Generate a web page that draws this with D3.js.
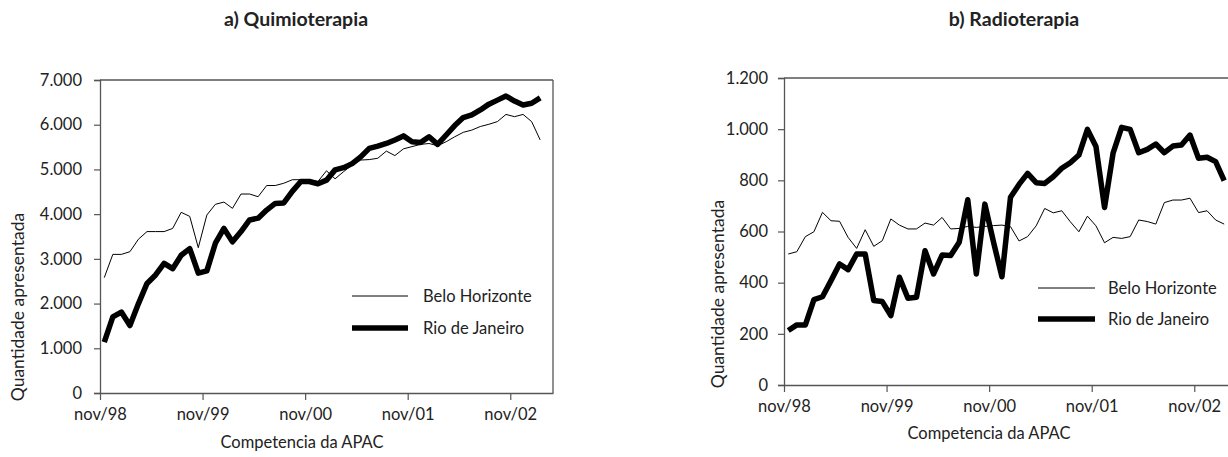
<!DOCTYPE html>
<html>
<head>
<meta charset="utf-8">
<script src="https://cdn.jsdelivr.net/npm/d3@7"></script>
<style>
  html, body { margin: 0; padding: 0; background: #fff; }
  svg { display: block; }
  text { font-family: Lato, "Noto Sans", sans-serif; fill: #222; }
</style>
</head>
<body>
<svg id="chart" width="1228" height="457"></svg>
<script>
// ---- Data ----
const categories = [
  "nov/98","dez/98","jan/99","fev/99","mar/99","abr/99","mai/99","jun/99","jul/99","ago/99","set/99","out/99",
  "nov/99","dez/99","jan/00","fev/00","mar/00","abr/00","mai/00","jun/00","jul/00","ago/00","set/00","out/00",
  "nov/00","dez/00","jan/01","fev/01","mar/01","abr/01","mai/01","jun/01","jul/01","ago/01","set/01","out/01",
  "nov/01","dez/01","jan/02","fev/02","mar/02","abr/02","mai/02","jun/02","jul/02","ago/02","set/02","out/02",
  "nov/02","dez/02","jan/03","fev/03","mar/03"
];
const xTickLabels = ["nov/98","nov/99","nov/00","nov/01","nov/02"];
const seriesNames = ["Belo Horizonte","Rio de Janeiro"];

const quimioBH = [2580,3100,3100,3160,3440,3610,3610,3610,3680,4040,3950,3250,3980,4220,4270,4130,4450,4450,4390,4640,4640,4690,4770,4770,4750,4730,
                  4970,4790,4950,5100,5210,5220,5250,5410,5310,5460,5510,5560,5580,5530,5620,5730,5830,5880,5960,6010,6070,6230,6180,6230,6070,5660];
const quimioRJ = [1140,1700,1810,1510,2000,2450,2640,2900,2780,3080,3230,2680,2730,3350,3680,3380,3610,3870,3910,4090,4240,4250,4510,4730,4730,4680,
                  4760,4990,5040,5130,5280,5470,5520,5580,5660,5750,5620,5600,5730,5560,5770,5980,6160,6220,6330,6460,6550,6640,6530,6440,6480,6600];
const radioBH = [512,521,580,599,675,642,640,577,534,607,542,564,649,625,610,610,633,625,655,610,612,620,616,620,623,625,
                 619,563,580,622,690,673,681,638,599,660,622,556,577,573,580,645,639,629,713,723,723,730,674,681,645,629];
const radioRJ = [213,235,235,334,345,408,473,451,512,512,330,326,271,421,339,343,525,434,508,506,558,724,434,707,560,423,
                 734,784,827,791,788,814,847,869,899,999,932,694,906,1007,999,908,921,942,908,934,938,977,886,890,873,799];

const quimioTicks = [0,1000,2000,3000,4000,5000,6000,7000];
const radioTicks = [0,200,400,600,800,1000,1200];

// ---- Drawing ----
const svg = d3.select("#chart");
const ptBR = d3.formatLocale({decimal: ",", thousands: ".", grouping: [3], currency: ["R$", ""]});
const fmt = ptBR.format(",d");
const FS = "16.5px";

function panel(cfg) {
  const g = svg.append("g");
  const x = d3.scaleLinear().domain([0, categories.length]).range([cfg.left, cfg.right]);
  const y = d3.scaleLinear().domain([0, cfg.yMax]).range([cfg.bottom, cfg.top]);
  const axisColor = "#555";

  // frame (top & right)
  g.append("line").attr("x1", cfg.left).attr("x2", cfg.right).attr("y1", cfg.top).attr("y2", cfg.top)
    .attr("stroke", axisColor).attr("stroke-width", 1.3);
  g.append("line").attr("x1", cfg.right).attr("x2", cfg.right).attr("y1", cfg.top).attr("y2", cfg.bottom)
    .attr("stroke", axisColor).attr("stroke-width", 1.3);

  // y axis
  const ya = g.append("g").attr("transform", `translate(${cfg.left},0)`)
    .call(d3.axisLeft(y).tickValues(cfg.yTicks).tickFormat(fmt).tickSize(6).tickPadding(cfg.yPad));
  ya.select(".domain").attr("stroke", axisColor).attr("stroke-width", 1.3);
  ya.selectAll(".tick line").attr("stroke", axisColor).attr("stroke-width", 1.2);
  ya.selectAll("text").style("font-size", FS).style("font-family", "Lato, 'Noto Sans', sans-serif").attr("fill", "#222");

  // x axis
  const tickIdx = xTickLabels.map(l => categories.indexOf(l));
  const xa = g.append("g").attr("transform", `translate(0,${cfg.bottom})`)
    .call(d3.axisBottom(x).tickValues(tickIdx).tickFormat(i => categories[i]).tickSize(7).tickPadding(cfg.xPad).tickSizeOuter(0));
  xa.select(".domain").attr("stroke", axisColor).attr("stroke-width", 1.3);
  xa.selectAll(".tick line").attr("stroke", axisColor).attr("stroke-width", 1.2);
  xa.selectAll("text").style("font-size", FS).style("font-family", "Lato, 'Noto Sans', sans-serif").attr("fill", "#222");

  // lines
  const line = d3.line().x((d, i) => x(i + 0.5)).y(d => y(d));
  g.append("path").datum(cfg.bh).attr("d", line).attr("fill", "none")
    .attr("stroke", "#000").attr("stroke-width", 1).attr("stroke-linejoin", "round");
  g.append("path").datum(cfg.rj).attr("d", line).attr("fill", "none")
    .attr("stroke", "#000").attr("stroke-width", 5.5).attr("stroke-linejoin", "round");

  // legend
  const lg = g.append("g");
  [[1, cfg.leg.y1], [5.5, cfg.leg.y2]].forEach(([w, ly], k) => {
    lg.append("line").attr("x1", cfg.leg.x1).attr("x2", cfg.leg.x2).attr("y1", ly).attr("y2", ly)
      .attr("stroke", "#000").attr("stroke-width", w);
    lg.append("text").attr("x", cfg.leg.tx).attr("y", ly).attr("dy", "0.35em")
      .style("font-size", FS).text(seriesNames[k]);
  });

  // titles
  g.append("text").attr("x", cfg.titleX).attr("y", 26).attr("text-anchor", "middle")
    .style("font-size", "19.5px").style("font-weight", "bold").text(cfg.title);
  g.append("text").attr("transform", `translate(${cfg.yLabX},${cfg.yLabY}) rotate(-90)`)
    .attr("text-anchor", "middle").attr("dy", "0.35em").style("font-size", "17.5px").text("Quantidade apresentada");
  g.append("text").attr("x", cfg.xLabX).attr("y", cfg.xLabY).attr("text-anchor", "middle")
    .attr("dy", "0.35em").style("font-size", FS).text("Competencia da APAC");
}

panel({
  left: 100, right: 553, top: 80, bottom: 393, yMax: 7000, yTicks: quimioTicks, yPad: 12, xPad: 8,
  bh: quimioBH, rj: quimioRJ,
  leg: {x1: 352, x2: 408, y1: 296, y2: 328, tx: 423},
  title: "a) Quimioterapia", titleX: 296,
  yLabX: 18, yLabY: 307, xLabX: 302, xLabY: 442
});

panel({
  left: 784, right: 784 + 453, top: 78, bottom: 385, yMax: 1200, yTicks: radioTicks, yPad: 10, xPad: 8,
  bh: radioBH, rj: radioRJ,
  leg: {x1: 1038, x2: 1095, y1: 288, y2: 319, tx: 1108},
  title: "b) Radioterapia", titleX: 1014,
  yLabX: 718, yLabY: 294, xLabX: 989, xLabY: 433
});
</script>
</body>
</html>
